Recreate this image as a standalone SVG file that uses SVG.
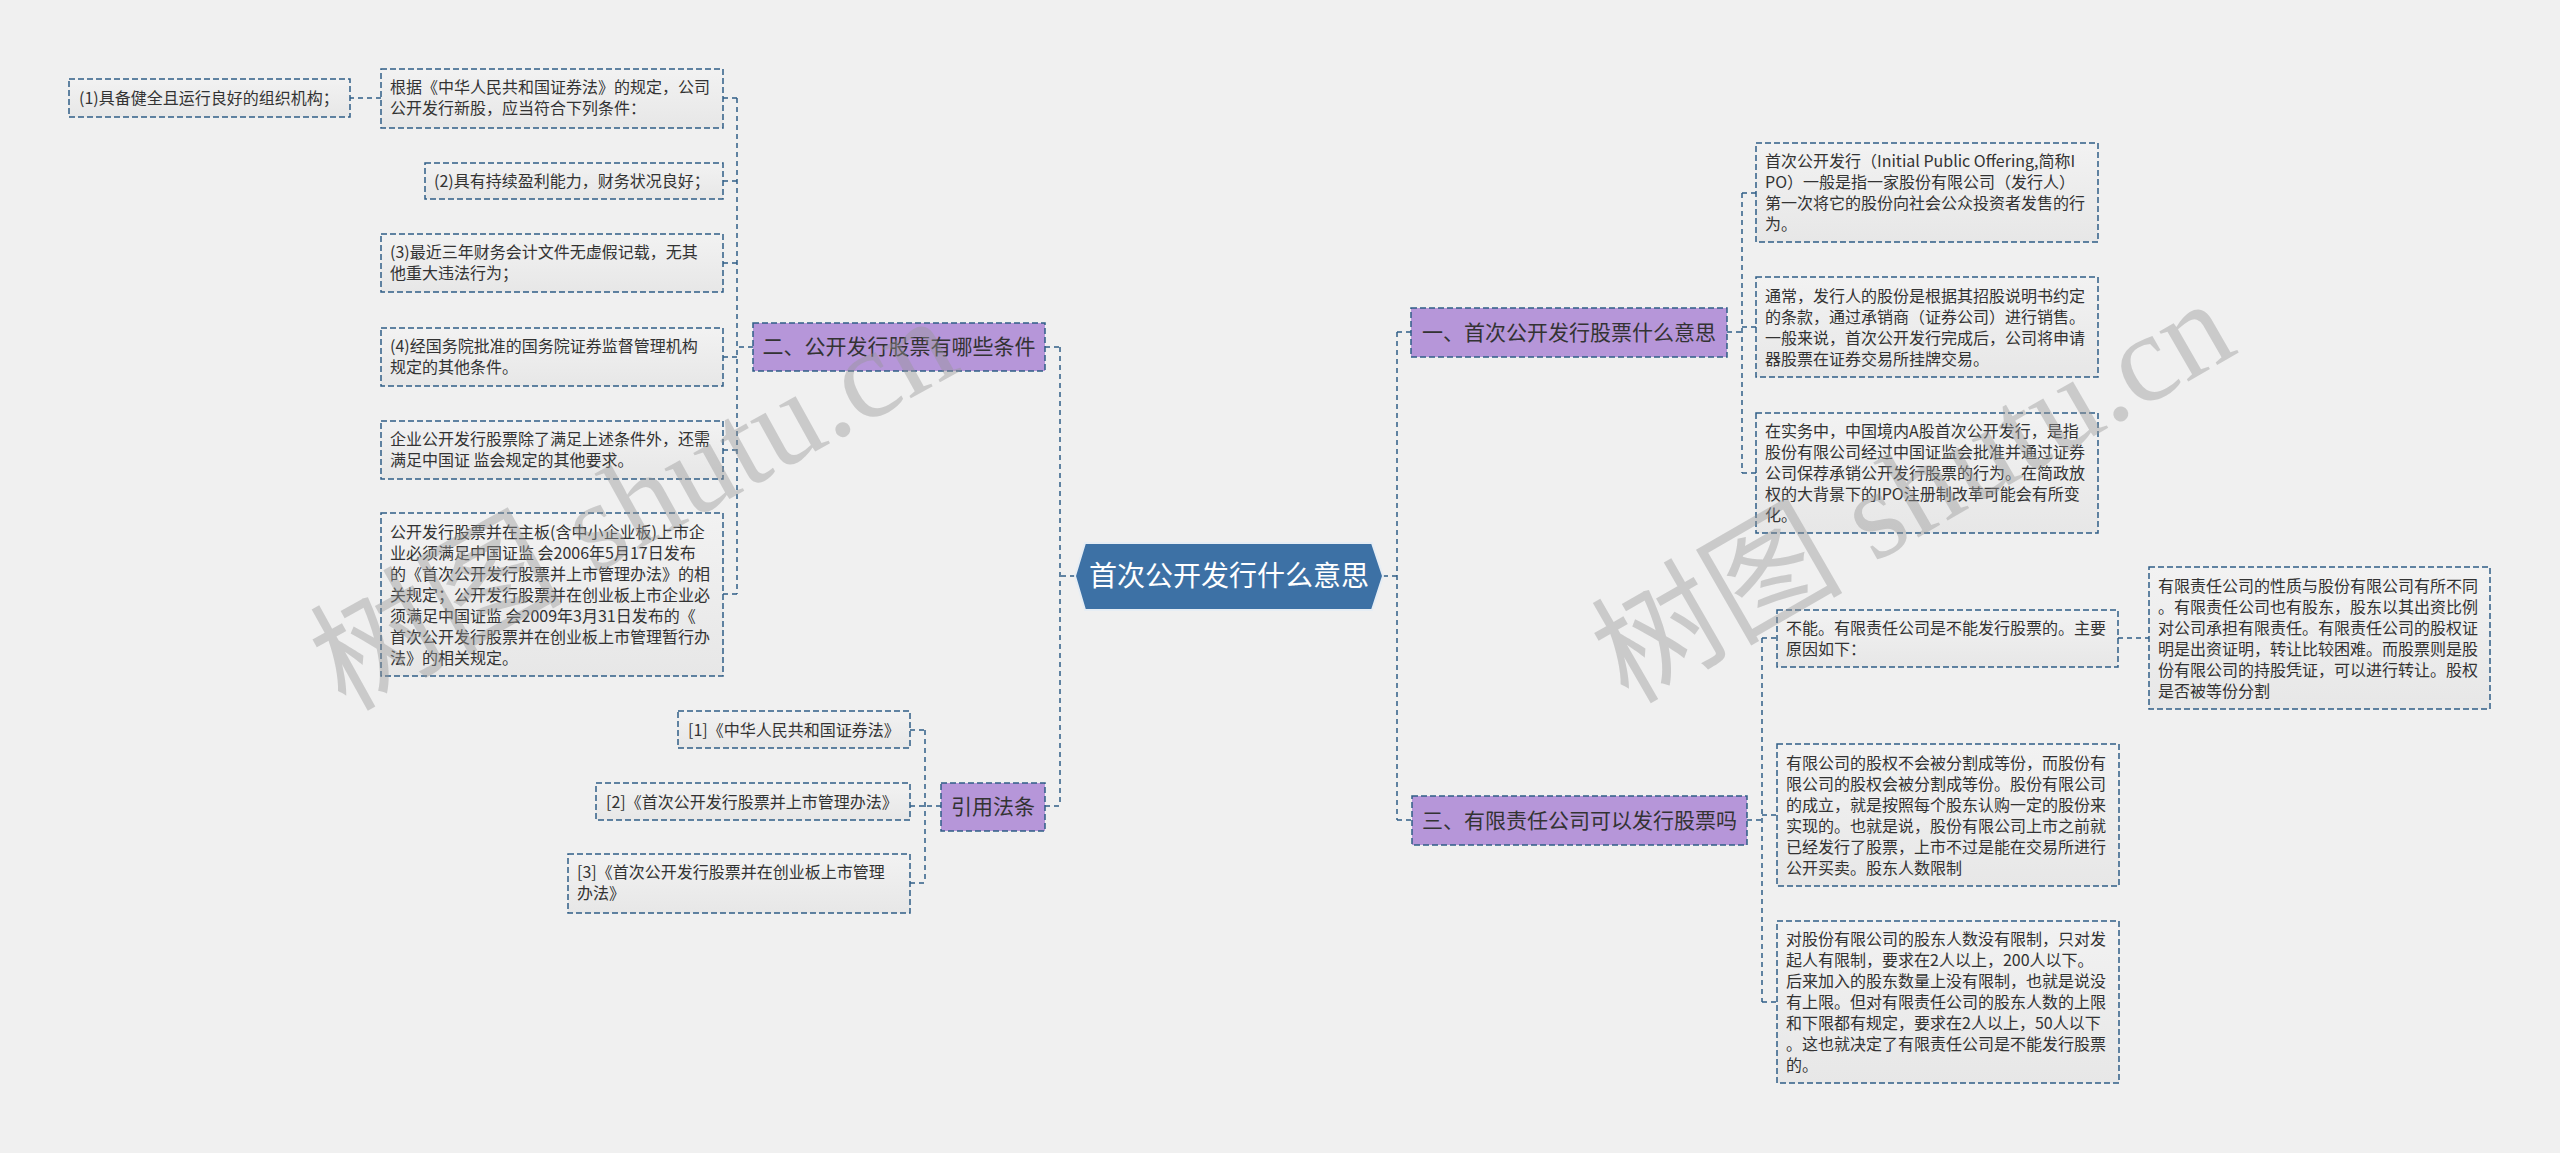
<svg xmlns="http://www.w3.org/2000/svg" width="2560" height="1153" viewBox="0 0 2560 1153">
<defs>
<linearGradient id="leafFill" x1="0" y1="0" x2="0" y2="1">
<stop offset="0" stop-color="#f2f2f2"/>
<stop offset="1" stop-color="#e7e7e7"/>
</linearGradient>
<style>
.leaf{fill:url(#leafFill);stroke:#2f5d86;stroke-width:1.5;stroke-dasharray:6 3}
.branch{fill:#b696d9;stroke:#2f5d86;stroke-width:1.5;stroke-dasharray:6 3}
.lt{font-family:"Noto Sans CJK SC","Liberation Sans",sans-serif;font-size:16px;fill:#333333}
.bt{font-family:"Noto Sans CJK SC","Liberation Sans",sans-serif;font-size:21px;fill:#333333;text-anchor:middle}
.rt{font-family:"Noto Sans CJK SC","Liberation Sans",sans-serif;font-size:28px;fill:#ffffff;text-anchor:middle}
.conn path{fill:none;stroke:#2f5d86;stroke-width:1.5;stroke-dasharray:5 4}
.wm{font-family:"Liberation Serif","Noto Sans CJK SC",serif;font-size:126px;fill:#969696;fill-opacity:0.42}
</style>
</defs>
<rect width="2560" height="1153" fill="#f0f0f0"/>

<g class="conn" id="connectors">
<path d="M1075,576 H1060"/>
<path d="M1060,347 V806"/>
<path d="M1045,347 H1060"/>
<path d="M1045,806 H1060"/>
<path d="M1383,576 H1397"/>
<path d="M1397,332 V820"/>
<path d="M1397,332 H1411"/>
<path d="M1397,820 H1412"/>
<path d="M753,347 H737"/>
<path d="M737,98 V594"/>
<path d="M723,98 H737"/>
<path d="M723,181 H737"/>
<path d="M723,263 H737"/>
<path d="M723,357 H737"/>
<path d="M723,450 H737"/>
<path d="M723,594 H737"/>
<path d="M381,98 H350"/>
<path d="M941,806 H925"/>
<path d="M925,730 V883"/>
<path d="M910,730 H925"/>
<path d="M910,806 H925"/>
<path d="M910,883 H925"/>
<path d="M1727,332 H1742"/>
<path d="M1742,193 V473"/>
<path d="M1742,193 H1756"/>
<path d="M1742,327 H1756"/>
<path d="M1742,473 H1756"/>
<path d="M1747,820 H1762"/>
<path d="M1762,638 V1002"/>
<path d="M1762,638 H1777"/>
<path d="M1762,815 H1777"/>
<path d="M1762,1002 H1777"/>
<path d="M2118,638 H2149"/>
</g>

<g id="root">
<polygon points="1075,576 1085,543 1372,543 1383,576 1372,610 1085,610" fill="#3d71a5" stroke="#e6edf4" stroke-width="2"/>
<text class="rt" x="1229" y="586">首次公开发行什么意思</text>
</g>

<g id="b2">
<rect class="branch" x="753" y="323" width="292" height="48"/>
<text class="bt" x="899" y="354">二、公开发行股票有哪些条件</text>
</g>
<g id="b-ref">
<rect class="branch" x="941" y="783" width="104" height="48"/>
<text class="bt" x="993" y="814">引用法条</text>
</g>
<g id="b1">
<rect class="branch" x="1411" y="308" width="316" height="49"/>
<text class="bt" x="1569" y="340">一、首次公开发行股票什么意思</text>
</g>
<g id="b3">
<rect class="branch" x="1412" y="796" width="335" height="49"/>
<text class="bt" x="1579.5" y="828">三、有限责任公司可以发行股票吗</text>
</g>

<g id="n-c1">
<rect class="leaf" x="69" y="79" width="281" height="38"/>
<text class="lt" x="79" y="104">(1)具备健全且运行良好的组织机构；</text>
</g>
<g id="n-law">
<rect class="leaf" x="381" y="69" width="342" height="59"/>
<text class="lt" x="390" y="93">根据《中华人民共和国证券法》的规定，公司<tspan x="390" dy="21">公开发行新股，应当符合下列条件：</tspan></text>
</g>
<g id="n-c2">
<rect class="leaf" x="425" y="163" width="298" height="36"/>
<text class="lt" x="434" y="187">(2)具有持续盈利能力，财务状况良好；</text>
</g>
<g id="n-c3">
<rect class="leaf" x="381" y="234" width="342" height="58"/>
<text class="lt" x="390" y="258">(3)最近三年财务会计文件无虚假记载，无其<tspan x="390" dy="21">他重大违法行为；</tspan></text>
</g>
<g id="n-c4">
<rect class="leaf" x="381" y="328" width="342" height="58"/>
<text class="lt" x="390" y="352">(4)经国务院批准的国务院证券监督管理机构<tspan x="390" dy="21">规定的其他条件。</tspan></text>
</g>
<g id="n-other">
<rect class="leaf" x="381" y="421" width="342" height="58"/>
<text class="lt" x="390" y="445">企业公开发行股票除了满足上述条件外，还需<tspan x="390" dy="21">满足中国证 监会规定的其他要求。</tspan></text>
</g>
<g id="n-board">
<rect class="leaf" x="381" y="513" width="342" height="163"/>
<text class="lt" x="390" y="537.5">公开发行股票并在主板(含中小企业板)上市企<tspan x="390" dy="21">业必须满足中国证监 会2006年5月17日发布</tspan><tspan x="390" dy="21">的《首次公开发行股票并上市管理办法》的相</tspan><tspan x="390" dy="21">关规定；公开发行股票并在创业板上市企业必</tspan><tspan x="390" dy="21">须满足中国证监 会2009年3月31日发布的《</tspan><tspan x="390" dy="21">首次公开发行股票并在创业板上市管理暂行办</tspan><tspan x="390" dy="21">法》的相关规定。</tspan></text>
</g>

<g id="n-r1">
<rect class="leaf" x="678" y="711" width="232" height="37"/>
<text class="lt" x="688" y="736">[1]《中华人民共和国证券法》</text>
</g>
<g id="n-r2">
<rect class="leaf" x="596" y="783" width="314" height="37"/>
<text class="lt" x="606" y="808">[2]《首次公开发行股票并上市管理办法》</text>
</g>
<g id="n-r3">
<rect class="leaf" x="568" y="854" width="342" height="59"/>
<text class="lt" x="577" y="878">[3]《首次公开发行股票并在创业板上市管理<tspan x="577" dy="21">办法》</tspan></text>
</g>

<g id="n-ipo">
<rect class="leaf" x="1756" y="143" width="342" height="99"/>
<text class="lt" x="1765" y="167">首次公开发行（Initial Public Offering,简称I<tspan x="1765" dy="21">PO）一般是指一家股份有限公司（发行人）</tspan><tspan x="1765" dy="21">第一次将它的股份向社会公众投资者发售的行</tspan><tspan x="1765" dy="21">为。</tspan></text>
</g>
<g id="n-usual">
<rect class="leaf" x="1756" y="277" width="342" height="100"/>
<text class="lt" x="1765" y="301.5">通常，发行人的股份是根据其招股说明书约定<tspan x="1765" dy="21">的条款，通过承销商（证券公司）进行销售。</tspan><tspan x="1765" dy="21">一般来说，首次公开发行完成后，公司将申请</tspan><tspan x="1765" dy="21">器股票在证券交易所挂牌交易。</tspan></text>
</g>
<g id="n-practice">
<rect class="leaf" x="1756" y="413" width="342" height="120"/>
<text class="lt" x="1765" y="437">在实务中，中国境内A股首次公开发行，是指<tspan x="1765" dy="21">股份有限公司经过中国证监会批准并通过证券</tspan><tspan x="1765" dy="21">公司保荐承销公开发行股票的行为。在简政放</tspan><tspan x="1765" dy="21">权的大背景下的IPO注册制改革可能会有所变</tspan><tspan x="1765" dy="21">化。</tspan></text>
</g>

<g id="n-cannot">
<rect class="leaf" x="1777" y="610" width="341" height="57"/>
<text class="lt" x="1786" y="634">不能。有限责任公司是不能发行股票的。主要<tspan x="1786" dy="21">原因如下：</tspan></text>
</g>
<g id="n-nature">
<rect class="leaf" x="2149" y="567" width="341" height="142"/>
<text class="lt" x="2158" y="591.5">有限责任公司的性质与股份有限公司有所不同<tspan x="2158" dy="21">。有限责任公司也有股东，股东以其出资比例</tspan><tspan x="2158" dy="21">对公司承担有限责任。有限责任公司的股权证</tspan><tspan x="2158" dy="21">明是出资证明，转让比较困难。而股票则是股</tspan><tspan x="2158" dy="21">份有限公司的持股凭证，可以进行转让。股权</tspan><tspan x="2158" dy="21">是否被等份分割</tspan></text>
</g>
<g id="n-equity">
<rect class="leaf" x="1777" y="744" width="342" height="142"/>
<text class="lt" x="1786" y="768.5">有限公司的股权不会被分割成等份，而股份有<tspan x="1786" dy="21">限公司的股权会被分割成等份。股份有限公司</tspan><tspan x="1786" dy="21">的成立，就是按照每个股东认购一定的股份来</tspan><tspan x="1786" dy="21">实现的。也就是说，股份有限公司上市之前就</tspan><tspan x="1786" dy="21">已经发行了股票，上市不过是能在交易所进行</tspan><tspan x="1786" dy="21">公开买卖。股东人数限制</tspan></text>
</g>
<g id="n-count">
<rect class="leaf" x="1777" y="921" width="342" height="162"/>
<text class="lt" x="1786" y="945">对股份有限公司的股东人数没有限制，只对发<tspan x="1786" dy="21">起人有限制，要求在2人以上，200人以下。</tspan><tspan x="1786" dy="21">后来加入的股东数量上没有限制，也就是说没</tspan><tspan x="1786" dy="21">有上限。但对有限责任公司的股东人数的上限</tspan><tspan x="1786" dy="21">和下限都有规定，要求在2人以上，50人以下</tspan><tspan x="1786" dy="21">。这也就决定了有限责任公司是不能发行股票</tspan><tspan x="1786" dy="21">的。</tspan></text>
</g>

<g id="watermarks">
<text class="wm" transform="translate(345,712) rotate(-29)">树图 shutu.cn</text>
<text class="wm" transform="translate(1628,705) rotate(-30)">树图 shutu.cn</text>
</g>
</svg>
